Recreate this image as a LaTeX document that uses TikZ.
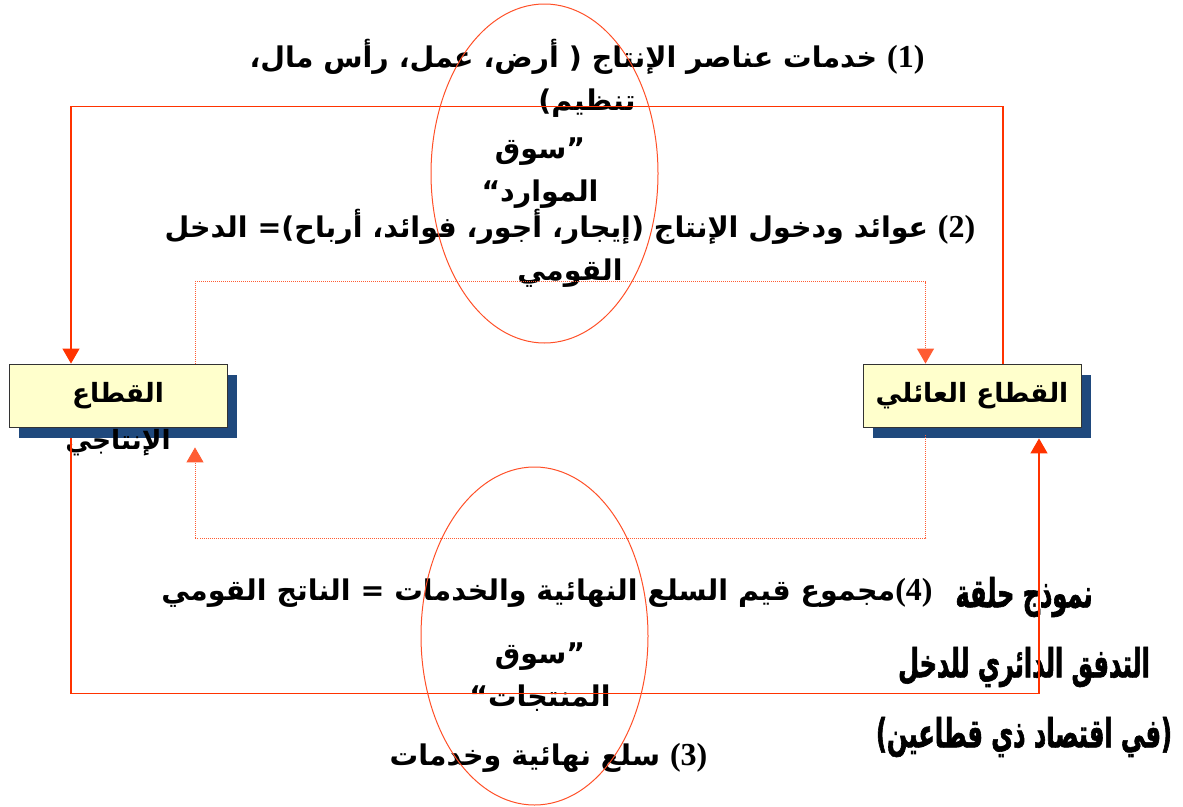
\documentclass[tikz,border=0pt]{standalone}
\usepackage{fontspec}
\usepackage{xcolor}
\usepackage{tikz}
\usetikzlibrary{positioning,shadows,arrows.meta}
\TeXXeTstate=1
\newfontfamily\arabicfont[Script=Arabic]{DejaVu Sans}
\newfontfamily\titlefont[Script=Arabic,FakeStretch=0.6,FakeBold=1.5]{DejaVu Sans}
\newfontfamily\numfont{Liberation Serif}
\definecolor{flowred}{RGB}{255,51,0}
\definecolor{marketred}{RGB}{255,80,40}
\definecolor{boxyellow}{RGB}{255,255,204}
\definecolor{shadowblue}{RGB}{31,73,125}
\newcommand{\flownum}[1]{{\numfont\fontsize{32}{43}\selectfont\beginL(#1)\endL}}

\begin{document}
\begin{tikzpicture}[x=1pt, y=-1pt, >={Triangle[width=17pt,length=15pt]}]
    \tikzstyle{sector} = [rectangle, minimum width=218pt, minimum height=63pt, inner sep=0pt, draw=black!80, line width=0.8pt, fill=boxyellow, drop shadow={shadow xshift=10pt, shadow yshift=-11pt, fill=shadowblue, opacity=1}, font=\arabicfont\bfseries\fontsize{26.5}{30}\selectfont]
    \tikzstyle{flowtext} = [align=center, inner sep=0pt, font=\arabicfont\bfseries\fontsize{28.5}{43}\selectfont]
    \tikzstyle{heading} = [align=center, inner sep=0pt, font=\titlefont\bfseries\fontsize{40}{70}\selectfont]
    \tikzstyle{flow} = [draw=flowred, line width=1.2pt, ->]
    \tikzstyle{money} = [draw=flowred!80, line width=0.9pt, dash pattern=on 1pt off 1pt, ->]
    \tikzstyle{market} = [draw=marketred, line width=1pt]

    \useasboundingbox (0,0) rectangle (1183,806);

    % Sectors
    \node [sector, label={[flowtext, font=\arabicfont\bfseries\fontsize{26.5}{30}\selectfont, label distance=2pt]below:\beginR الإنتاجي\endR}] (pr) at (118,395.5) {\beginR القطاع\endR};
    \node [sector] (hh) at (972,395.5) {\beginR القطاع العائلي\endR};

    % Flow labels
    \node [flowtext] (factors) at (587,78) {\beginR\flownum{1} خدمات عناصر الإنتاج ( أرض، عمل، رأس مال،\endR\\\beginR تنظيم)\endR};
    \node [flowtext] (resmkt) at (540,173) {\beginR ”سوق\endR\\\beginR الموارد“\endR};
    \node [flowtext] (income) at (570,248) {\beginR\flownum{2} عوائد ودخول الإنتاج (إيجار، أجور، فوائد، أرباح)= الدخل\endR\\\beginR القومي\endR};
    \node [flowtext] (gnp) at (547,593) {\beginR\flownum{4}مجموع قيم السلع النهائية والخدمات = الناتج القومي\endR};
    \node [flowtext] (prodmkt) at (540,677) {\beginR ”سوق\endR\\\beginR المنتجات“\endR};
    \node [flowtext] (goods) at (548.5,758) {\beginR\flownum{3} سلع نهائية وخدمات\endR};

    % Title
    \node [heading] (title) at (1024,667) {\beginR نموذج حلقة\endR\\\beginR التدفق الدائري للدخل\endR\\\beginR(في اقتصاد ذي قطاعين)\endR};

    % Flows
    \draw [flow] ([xshift=31pt]hh.north) -- ++(0,-257) -| ([xshift=-47pt]pr.north);
    \draw [money] ([xshift=77pt]pr.north) -- ++(0,-82) -| ([xshift=-46.5pt]hh.north);
    \draw [flow] ([xshift=-47pt,yshift=-11pt]pr.south) -- ++(0,255) -| ([xshift=67pt,yshift=-11pt]hh.south);
    \draw [money] ([xshift=-46.5pt,yshift=-8pt]hh.south) -- ++(0,103) -| ([xshift=77pt,yshift=-20pt]pr.south);

    % Markets
    \draw [market] (544.5,173.5) ellipse [x radius=113.5, y radius=169.5];
    \draw [market] (534.5,636) ellipse [x radius=113.5, y radius=169];
\end{tikzpicture}
\end{document}
